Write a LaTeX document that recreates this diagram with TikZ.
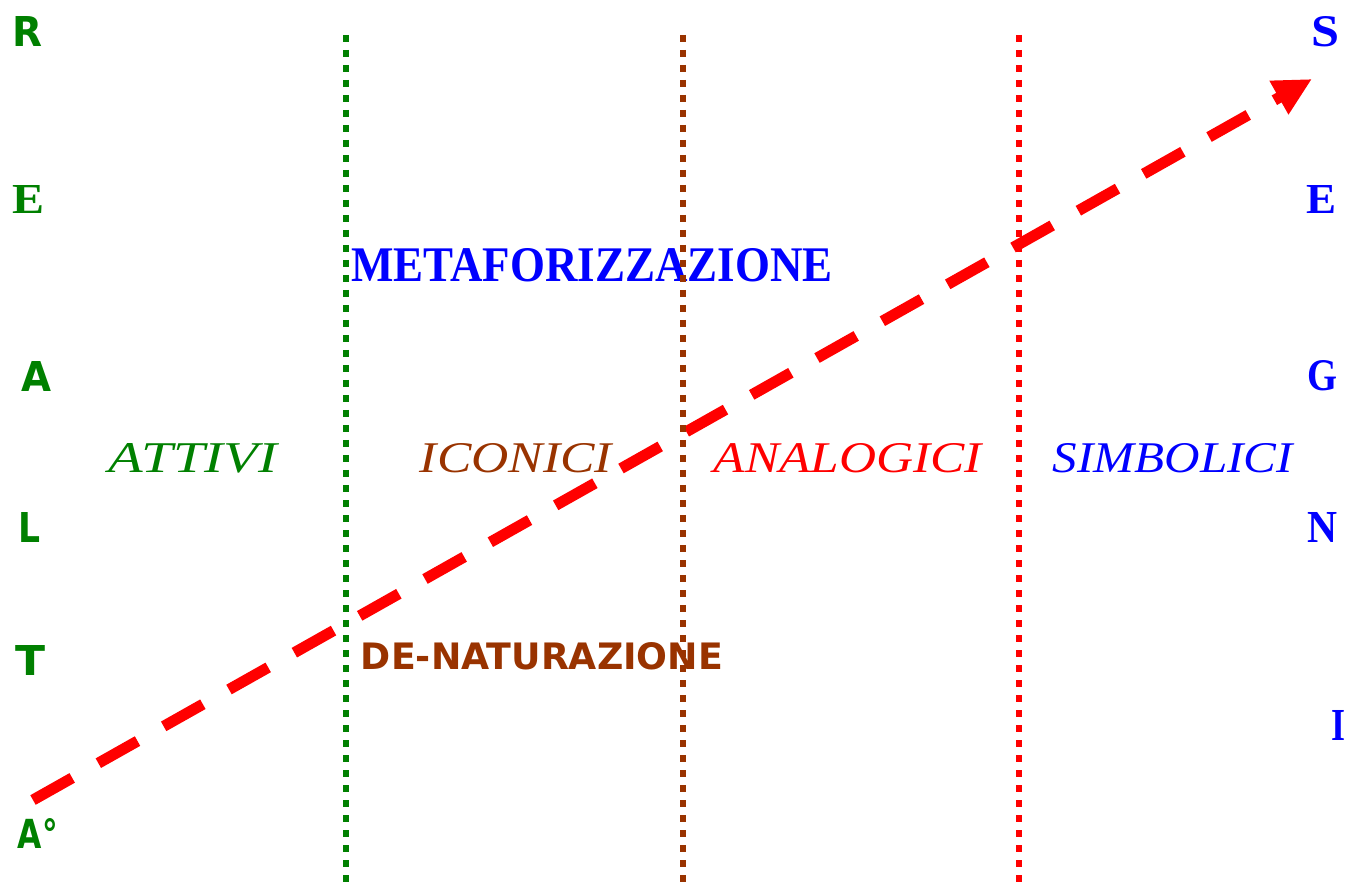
\documentclass[tikz,border=0pt]{standalone}
\usepackage{fontspec}
\usepackage{graphicx}
\usetikzlibrary{arrows.meta}
\newfontfamily\lserif{Liberation Serif}
\newfontfamily\lsans{DejaVu Sans}
\definecolor{dgreen}{RGB}{0,128,0}
\definecolor{dbrown}{RGB}{153,51,0}
\definecolor{dblue}{RGB}{0,0,255}
\definecolor{dred}{RGB}{255,0,0}
\begin{document}
\begin{tikzpicture}[x=1pt,y=-1pt,
  lbl/.style={inner sep=0pt, outer sep=0pt, anchor=center},
  divider/.style={line width=6pt, dash pattern=on 7pt off 8pt},
  flow/.style={draw=dred, line width=11pt, dash pattern=on 45pt off 30pt, -{Triangle[length=38pt,width=36pt]}}
]
\useasboundingbox (0,0) rectangle (1350,882);
% left letters
\node[lbl, text=dgreen] (r1) at (28,32) {\resizebox{30pt}{30pt}{\lsans\bfseries R}};
\node[lbl, text=dgreen] (r2) at (29,200) {\resizebox{32pt}{28pt}{\lserif\bfseries E}};
\node[lbl, text=dgreen] (r3) at (37,376) {\resizebox{30pt}{30pt}{\lsans\bfseries A}};
\node[lbl, text=dgreen] (r4) at (30,527) {\resizebox{22pt}{30pt}{\lsans\bfseries L}};
\node[lbl, text=dgreen] (r5) at (31,660) {\resizebox{30pt}{30pt}{\lsans\bfseries T}};
\node[lbl, text=dgreen] (r6) at (38,833) {\resizebox{40pt}{30pt}{\lsans\bfseries A°}};
% right letters
\node[lbl, text=dblue] (s1) at (1325,32) {\resizebox{28pt}{30pt}{\lserif\bfseries S}};
\node[lbl, text=dblue] (s2) at (1321,200) {\resizebox{30pt}{28pt}{\lserif\bfseries E}};
\node[lbl, text=dblue] (s3) at (1322,376) {\resizebox{30pt}{30pt}{\lserif\bfseries G}};
\node[lbl, text=dblue] (s4) at (1322,527) {\resizebox{30pt}{30pt}{\lserif\bfseries N}};
\node[lbl, text=dblue] (s5) at (1338,725) {\resizebox{14pt}{30pt}{\lserif\bfseries I}};
% headings
\node[lbl, text=dblue] (meta) at (592,265) {\resizebox{481pt}{33pt}{\lserif\bfseries METAFORIZZAZIONE}};
\node[lbl, text=dbrown] (denat) at (542,656) {\resizebox{362pt}{27pt}{\lsans\bfseries DE-NATURAZIONE}};
% categories
\node[lbl, text=dgreen] (att) at (193,458) {\resizebox{168pt}{29pt}{\lserif\itshape ATTIVI}};
\node[lbl, text=dbrown] (ico) at (516,458) {\resizebox{192pt}{29pt}{\lserif\itshape ICONICI}};
\node[lbl, text=dred] (ana) at (848,458) {\resizebox{268pt}{29pt}{\lserif\itshape ANALOGICI}};
\node[lbl, text=dblue] (sim) at (1173,458) {\resizebox{240pt}{29pt}{\lserif\itshape SIMBOLICI}};
% arrow
\coordinate (start) at (33,800);
\coordinate (tip) at (1312,79);
\draw[flow] (start) -- (tip);
% dividers
\coordinate (g1) at (346,35); \coordinate (g2) at (346,882);
\coordinate (b1) at (683,35); \coordinate (b2) at (683,882);
\coordinate (d1) at (1019,35); \coordinate (d2) at (1019,882);
\draw[divider, dgreen] (g1) -- (g2);
\draw[divider, dbrown] (b1) -- (b2);
\draw[divider, dred] (d1) -- (d2);
\end{tikzpicture}
\end{document}
